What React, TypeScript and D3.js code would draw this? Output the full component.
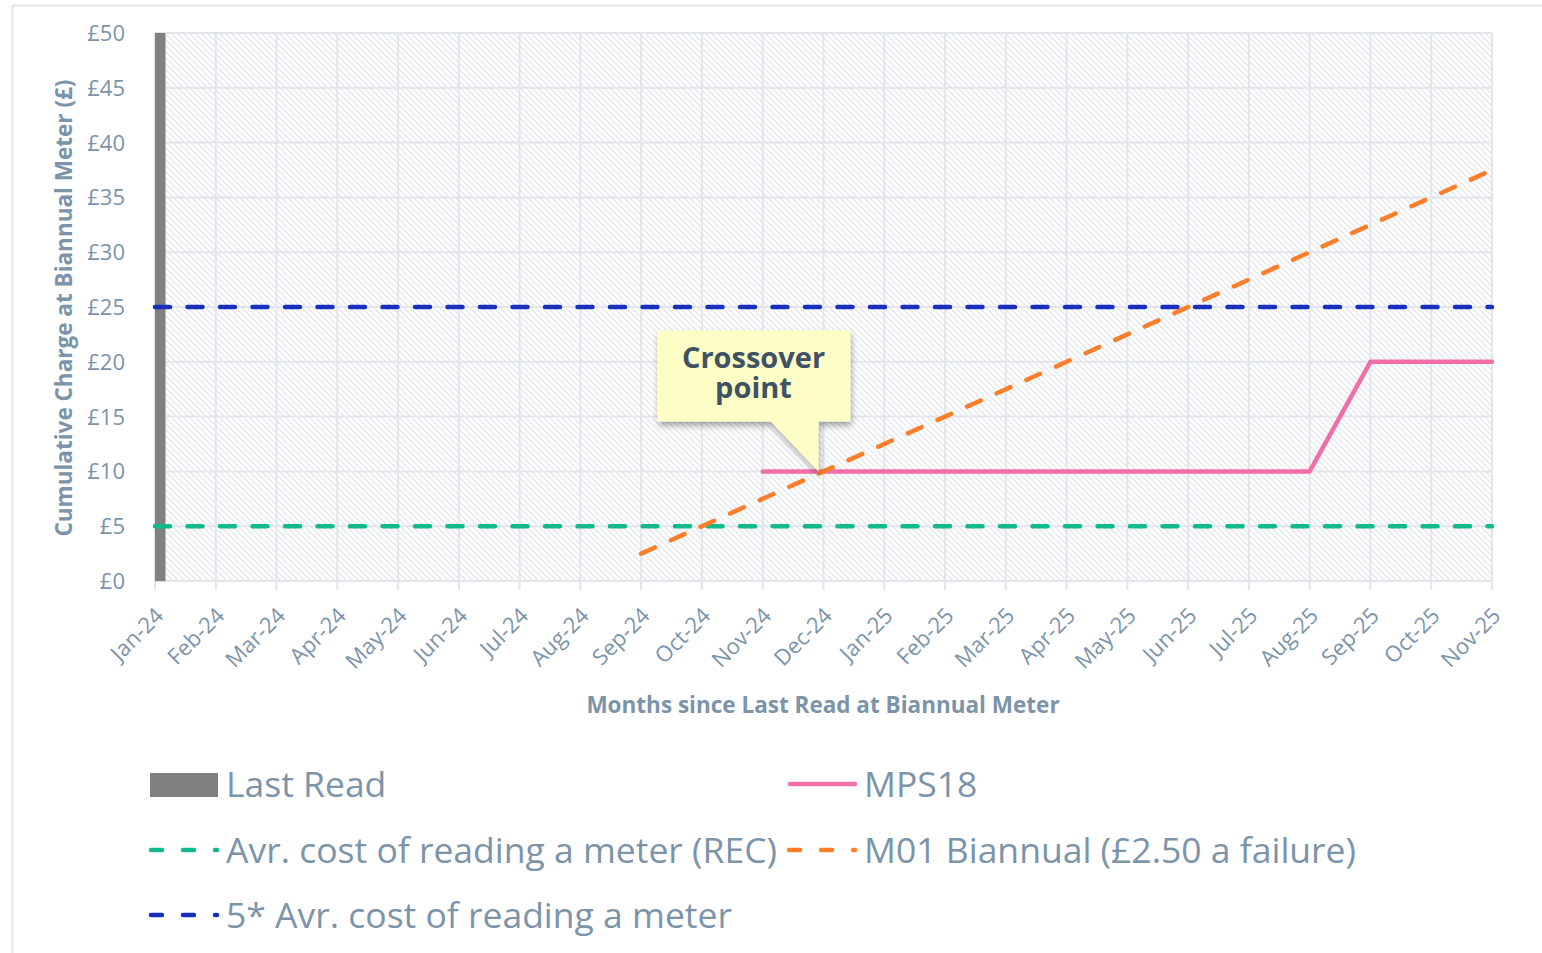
import React, { useEffect, useRef } from 'react';
import * as d3 from 'd3';

// categories (x axis)
const months = ['Jan-24', 'Feb-24', 'Mar-24', 'Apr-24', 'May-24', 'Jun-24', 'Jul-24', 'Aug-24', 'Sep-24', 'Oct-24', 'Nov-24', 'Dec-24',
  'Jan-25', 'Feb-25', 'Mar-25', 'Apr-25', 'May-25', 'Jun-25', 'Jul-25', 'Aug-25', 'Sep-25', 'Oct-25', 'Nov-25'];

// series
const lastReadMonths = ['Jan-24'];
const lastReadValues = [50];

const mps18Months = ['Nov-24', 'Dec-24', 'Jan-25', 'Feb-25', 'Mar-25', 'Apr-25', 'May-25', 'Jun-25', 'Jul-25', 'Aug-25', 'Sep-25', 'Oct-25', 'Nov-25'];
const mps18Values = [10, 10, 10, 10, 10, 10, 10, 10, 10, 10, 20, 20, 20];

const m01Months = ['Sep-24', 'Oct-24', 'Nov-24', 'Dec-24', 'Jan-25', 'Feb-25', 'Mar-25', 'Apr-25', 'May-25', 'Jun-25', 'Jul-25', 'Aug-25', 'Sep-25', 'Oct-25', 'Nov-25'];
const m01Values = [2.5, 5, 7.5, 10, 12.5, 15, 17.5, 20, 22.5, 25, 27.5, 30, 32.5, 35, 37.5];

const recValues = [5, 5, 5, 5, 5, 5, 5, 5, 5, 5, 5, 5, 5, 5, 5, 5, 5, 5, 5, 5, 5, 5, 5];
const rec5Values = [25, 25, 25, 25, 25, 25, 25, 25, 25, 25, 25, 25, 25, 25, 25, 25, 25, 25, 25, 25, 25, 25, 25];

// y ticks
const yTicks = [0, 5, 10, 15, 20, 25, 30, 35, 40, 45, 50];

const TXT = '#7b94a9';
const GRID = '#e2e6ea';
const FONT = '"Open Sans", "Noto Sans", sans-serif';

export default function App() {
  const ref = useRef<SVGSVGElement>(null);

  useEffect(() => {
    const svg = d3.select(ref.current);
    svg.selectAll('*').remove();

    const x = d3.scalePoint<string>().domain(months).range([155, 1492]);
    const y = d3.scaleLinear().domain([0, 50]).range([581, 33]);

    const defs = svg.append('defs');
    // hatch background (dotted diagonals)
    const pat = defs.append('pattern')
      .attr('id', 'hatch')
      .attr('patternUnits', 'userSpaceOnUse')
      .attr('width', 6)
      .attr('height', 6);
    pat.append('rect').attr('width', 6).attr('height', 6).attr('fill', '#ffffff');
    pat.append('path')
      .attr('d', 'M-1,-1 L7,7 M-1,5 L1,7 M5,-1 L7,1')
      .attr('stroke', '#e3e6ea')
      .attr('stroke-width', 1.3);

    const flt = defs.append('filter').attr('id', 'shadow')
      .attr('x', '-20%').attr('y', '-20%').attr('width', '140%').attr('height', '150%');
    flt.append('feDropShadow')
      .attr('dx', 1).attr('dy', 4).attr('stdDeviation', 3)
      .attr('flood-color', '#000').attr('flood-opacity', 0.35);

    // outer border
    svg.append('rect')
      .attr('x', 12.5).attr('y', 5.5).attr('width', 1560).attr('height', 980)
      .attr('fill', 'none').attr('stroke', GRID).attr('stroke-width', 2);

    // plot area
    svg.append('rect')
      .attr('x', x('Jan-24')).attr('y', y(50))
      .attr('width', (x('Nov-25') as number) - (x('Jan-24') as number))
      .attr('height', y(0) - y(50))
      .attr('fill', 'url(#hatch)');

    const grid = svg.append('g');
    grid.selectAll('.hg').data(yTicks).enter().append('line')
      .attr('x1', x('Jan-24')).attr('x2', x('Nov-25'))
      .attr('y1', d => y(d)).attr('y2', d => y(d))
      .attr('stroke', GRID).attr('stroke-width', 2);
    grid.selectAll('.vg').data(months).enter().append('line')
      .attr('x1', d => x(d)).attr('x2', d => x(d))
      .attr('y1', y(50)).attr('y2', y(0) + 9)
      .attr('stroke', GRID).attr('stroke-width', 2);

    // y tick labels
    svg.append('g').selectAll('text').data(yTicks).enter().append('text')
      .attr('x', 125).attr('y', d => y(d) + 8)
      .attr('text-anchor', 'end')
      .style('font-family', FONT).style('font-size', '22px').style('fill', TXT)
      .text(d => '£' + d);

    // x tick labels
    svg.append('g').selectAll('text').data(months).enter().append('text')
      .attr('transform', d => `translate(${(x(d) as number) + 10},${617}) rotate(-45)`)
      .attr('text-anchor', 'end')
      .style('font-family', FONT).style('font-size', '22px').style('fill', TXT)
      .text(d => d);

    // axis titles
    svg.append('text')
      .attr('transform', 'translate(72,308) rotate(-90)')
      .attr('text-anchor', 'middle')
      .style('font-family', FONT).style('font-size', '22.5px').style('font-weight', 'bold').style('fill', TXT)
      .text('Cumulative Charge at Biannual Meter (£)');
    svg.append('text')
      .attr('x', 823).attr('y', 713)
      .attr('text-anchor', 'middle')
      .style('font-family', FONT).style('font-size', '22.5px').style('font-weight', 'bold').style('fill', TXT)
      .text('Months since Last Read at Biannual Meter');

    // last read bar
    svg.append('g').selectAll('rect').data(lastReadMonths).enter().append('rect')
      .attr('x', d => x(d) as number)
      .attr('y', (d, i) => y(lastReadValues[i]))
      .attr('width', 10.5)
      .attr('height', (d, i) => y(0) - y(lastReadValues[i]))
      .attr('fill', '#808080');

    const line = d3.line<[string, number]>()
      .x(d => x(d[0]) as number)
      .y(d => y(d[1]));

    const dash = '15 17.5';
    const drawLine = (ms: string[], vs: number[], color: string, dashed: boolean) => {
      svg.append('path')
        .datum(ms.map((m, i) => [m, vs[i]] as [string, number]))
        .attr('d', line)
        .attr('fill', 'none')
        .attr('stroke', color)
        .attr('stroke-width', 4.5)
        .attr('stroke-linecap', 'round')
        .attr('stroke-linejoin', 'round')
        .attr('stroke-dasharray', dashed ? dash : null);
    };

    drawLine(months, recValues, '#12b98d', true);
    drawLine(months, rec5Values, '#1a2fbd', true);
    drawLine(mps18Months, mps18Values, '#f06fa8', false);
    drawLine(m01Months, m01Values, '#fb7e2a', true);

    // callout
    const tx = (x('Dec-24') as number) - 5;
    const ty = y(10);
    const callout = svg.append('g');
    callout.append('path')
      .attr('d', `M${tx - 161},${ty - 141} H${tx + 32} V${ty - 50} H${tx} L${tx},${ty} L${tx - 48},${ty - 50} H${tx - 161} Z`)
      .attr('fill', '#fdfdc6')
      .attr('filter', 'url(#shadow)');
    const ct = callout.append('text')
      .attr('text-anchor', 'middle')
      .style('font-family', FONT).style('font-size', '29px').style('font-weight', 'bold').style('fill', '#3e5263');
    ct.append('tspan').attr('x', tx - 65).attr('y', ty - 103).text('Crossover');
    ct.append('tspan').attr('x', tx - 65).attr('y', ty - 73).text('point');

    // legend
    const lg = svg.append('g');
    const legFont = (t: any) => t.style('font-family', FONT).style('font-size', '35.5px').style('fill', TXT);
    lg.append('rect').attr('x', 150).attr('y', 773).attr('width', 68).attr('height', 24).attr('fill', '#808080');
    legFont(lg.append('text').attr('x', 226).attr('y', 797).text('Last Read'));

    lg.append('line').attr('x1', 790).attr('x2', 855).attr('y1', 784).attr('y2', 784)
      .attr('stroke', '#f06fa8').attr('stroke-width', 4.5).attr('stroke-linecap', 'round');
    legFont(lg.append('text').attr('x', 864).attr('y', 797).text('MPS18'));

    const legDash = (x0: number, yy: number, color: string) => {
      lg.append('line').attr('x1', x0 + 1).attr('x2', x0 + 67).attr('y1', yy).attr('y2', yy)
        .attr('stroke', color).attr('stroke-width', 4.5).attr('stroke-linecap', 'round')
        .attr('stroke-dasharray', '11 21');
    };
    legDash(150, 850, '#12b98d');
    legFont(lg.append('text').attr('x', 226).attr('y', 863).text('Avr. cost of reading a meter (REC)'));
    legDash(788, 850, '#fb7e2a');
    legFont(lg.append('text').attr('x', 864).attr('y', 863).text('M01 Biannual (£2.50 a failure)'));
    legDash(150, 915, '#1a2fbd');
    legFont(lg.append('text').attr('x', 226).attr('y', 928).text('5* Avr. cost of reading a meter'));
  }, []);

  return (
    <div>
      <style>{'body{margin:0}'}</style>
      <svg ref={ref} width={1542} height={953} style={{ display: 'block', background: '#fff' }} />
    </div>
  );
}
